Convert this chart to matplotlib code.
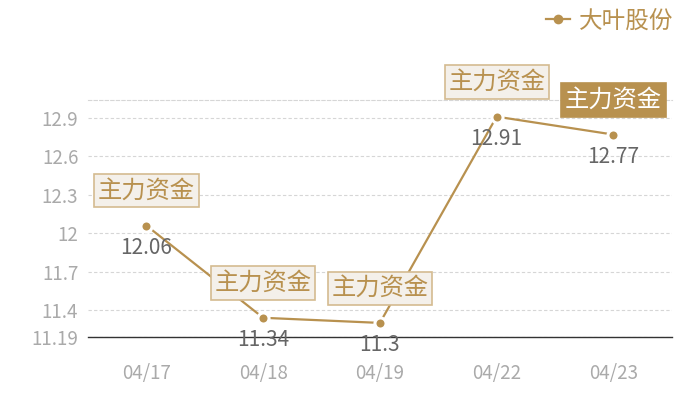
import matplotlib
matplotlib.use("Agg")
import matplotlib.pyplot as plt
from matplotlib.lines import Line2D

#---------------------------DATA------------------------------------
dates = ["04/17", "04/18", "04/19", "04/22", "04/23"]
prices = [12.06, 11.34, 11.3, 12.91, 12.77]
yTicks = [11.19, 11.4, 11.7, 12, 12.3, 12.6, 12.9]
yTickLabels = ["11.19", "11.4", "11.7", "12", "12.3", "12.6", "12.9"]
seriesName = "大叶股份"
tagText = "主力资金"
highlighted = [False, False, False, False, True]
#---------------------------END OF DATA------------------------------

plt.rcParams['font.family'] = ['Noto Sans CJK SC', 'DejaVu Sans']

gold = "#b8914f"

fig = plt.figure(figsize=(7, 4), dpi=100)
ax = fig.add_axes([0.1257, 0.1575, 0.834, 0.5925])

xs = list(range(len(dates)))
ax.plot(xs, prices, color=gold, lw=1.6, marker="o", markersize=8,
        markerfacecolor=gold, markeredgecolor="white", markeredgewidth=2.2,
        zorder=3)

ax.set_xlim(-0.5, len(dates) - 0.5)
ax.set_ylim(11.19, 13.04)
ax.set_xticks(xs)
ax.set_xticklabels(dates)
ax.set_yticks(yTicks)
ax.set_yticklabels(yTickLabels)
ax.tick_params(axis="both", length=0, colors="#aaaaaa")
ax.tick_params(axis="x", pad=19, labelsize=13.5)
ax.tick_params(axis="y", pad=7, labelsize=13.5)

ax.grid(axis="y", color="#d6d6d6", linestyle=(0, (3, 2)), lw=0.8)
ax.set_axisbelow(True)
for side in ["left", "right"]:
    ax.spines[side].set_visible(False)
ax.spines["top"].set_color("#d6d6d6")
ax.spines["top"].set_linestyle((0, (3, 2)))
ax.spines["top"].set_linewidth(0.8)
ax.spines["bottom"].set_color("#333333")
ax.spines["bottom"].set_linewidth(1.0)

# value labels and tags
for i in range(len(dates)):
    ax.annotate(str(prices[i]), (xs[i], prices[i]), xytext=(0, -16),
                textcoords="offset points", ha="center", va="center",
                fontsize=15, color="#666666", zorder=4)
    if highlighted[i]:
        box = dict(boxstyle="square,pad=0.15", facecolor=gold, edgecolor=gold, lw=1.2)
        tc = "white"
    else:
        box = dict(boxstyle="square,pad=0.15", facecolor="#f4f0ea", edgecolor="#d4bb90", lw=1.2)
        tc = gold
    ax.annotate(tagText, (xs[i], prices[i]), xytext=(0, 25),
                textcoords="offset points", ha="center", va="center",
                fontsize=17.5, color=tc, bbox=box, zorder=5)

handle = Line2D([], [], color=gold, lw=1.6, marker="o", markersize=7,
                markerfacecolor=gold, markeredgewidth=0)
leg = fig.legend([handle], [seriesName], loc="upper right",
                 bbox_to_anchor=(0.993, 1.03), frameon=False,
                 fontsize=17, handlelength=1.0, handletextpad=0.4)
for t in leg.get_texts():
    t.set_color(gold)

fig.savefig("out.png", dpi=100)
